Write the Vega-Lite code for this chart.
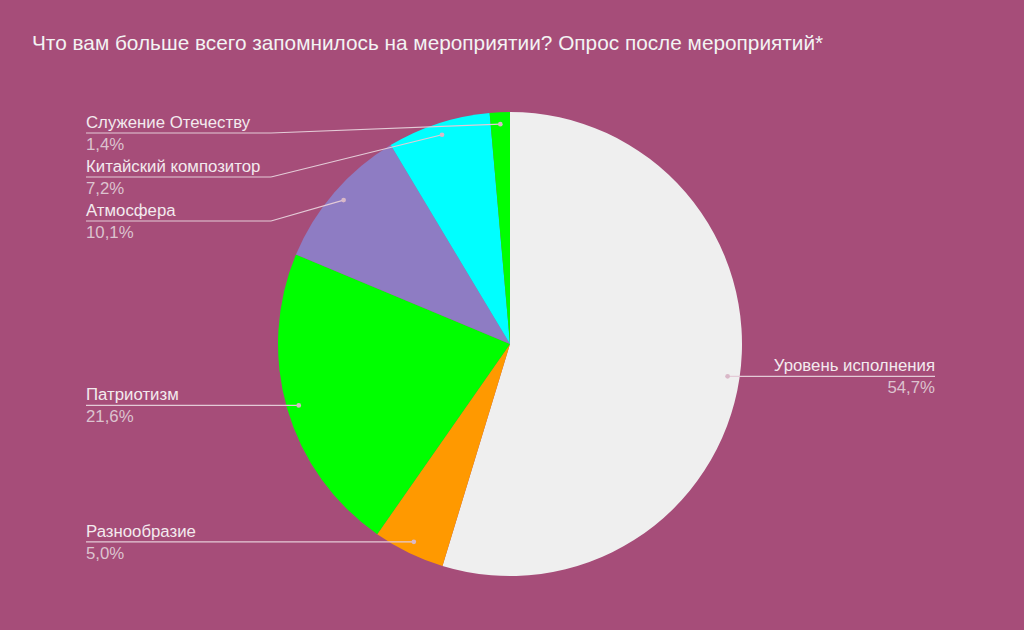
{
  "$schema": "https://vega.github.io/schema/vega-lite/v6.json",
  "width": 1024,
  "height": 570,
  "autosize": {"type": "none"},
  "padding": {"top": 60, "left": 0, "right": 0, "bottom": 0},
  "background": "#a64d79",
  "view": {"stroke": null},
  "title": {
    "text": "Что вам больше всего запомнилось на мероприятии? Опрос после мероприятий*",
    "anchor": "start",
    "dx": 32,
    "offset": -11,
    "fontSize": 20.8,
    "font": "Liberation Sans",
    "fontWeight": "normal",
    "color": "#f3f3f3",
    "baseline": "alphabetic"
  },
  "config": {"font": "Liberation Sans"},
  "data": {
    "values": [
      {"order": 1, "category": "Уровень исполнения", "pct": 54.7},
      {"order": 2, "category": "Разнообразие", "pct": 5.0},
      {"order": 3, "category": "Патриотизм", "pct": 21.6},
      {"order": 4, "category": "Атмосфера", "pct": 10.1},
      {"order": 5, "category": "Китайский композитор", "pct": 7.2},
      {"order": 6, "category": "Служение Отечеству", "pct": 1.4}
    ]
  },
  "transform": [
    {"window": [{"op": "sum", "field": "pct", "as": "cum"}], "sort": [{"field": "order"}], "frame": [null, 0]},
    {"calculate": "2 * PI * (datum.cum - datum.pct / 2) / 100", "as": "mid"},
    {"calculate": "220 * sin(datum.mid)", "as": "dotX"},
    {"calculate": "220 * cos(datum.mid)", "as": "dotY"},
    {"calculate": "datum.dotX >= 0 ? 'right' : 'left'", "as": "side"},
    {"window": [{"op": "row_number", "as": "rk"}], "groupby": ["side"], "sort": [{"field": "dotY", "order": "descending"}]},
    {"calculate": "datum.side == 'left' ? min(datum.dotY, 211 - 44 * (datum.rk - 1)) : datum.dotY", "as": "lineY"},
    {"calculate": "datum.side == 'left' ? -424 : 425", "as": "labelX"},
    {"calculate": "datum.side == 'left' ? -239 : 260", "as": "elbowX"},
    {"calculate": "replace(format(datum.pct, '.1f'), '.', ',') + '%'", "as": "pctLabel"}
  ],
  "layer": [
    {
      "mark": {"type": "arc", "outerRadius": 232},
      "encoding": {
        "x": {"datum": 0, "type": "quantitative", "scale": {"domain": [-510, 514], "nice": false, "zero": false}, "axis": null},
        "y": {"datum": 0, "type": "quantitative", "scale": {"domain": [-286, 284], "nice": false, "zero": false}, "axis": null},
        "theta": {"field": "pct", "type": "quantitative", "stack": true},
        "order": {"field": "order", "type": "quantitative"},
        "color": {
          "field": "category",
          "type": "nominal",
          "legend": null,
          "scale": {
            "domain": ["Уровень исполнения", "Разнообразие", "Патриотизм", "Атмосфера", "Китайский композитор", "Служение Отечеству"],
            "range": ["#efefef", "#ff9900", "#00ff00", "#8e7cc3", "#00ffff", "#00ff00"]
          }
        }
      }
    },
    {
      "mark": {"type": "rule", "color": "#e4cbd7", "strokeWidth": 1.2},
      "encoding": {
        "x": {"field": "labelX", "type": "quantitative", "scale": {"domain": [-510, 514], "nice": false, "zero": false}, "axis": null},
        "x2": {"field": "elbowX"},
        "y": {"field": "lineY", "type": "quantitative", "scale": {"domain": [-286, 284], "nice": false, "zero": false}, "axis": null},
        "y2": {"field": "lineY"}
      }
    },
    {
      "mark": {"type": "rule", "color": "#e4cbd7", "strokeWidth": 1.2},
      "encoding": {
        "x": {"field": "elbowX", "type": "quantitative", "scale": {"domain": [-510, 514], "nice": false, "zero": false}, "axis": null},
        "x2": {"field": "dotX"},
        "y": {"field": "lineY", "type": "quantitative", "scale": {"domain": [-286, 284], "nice": false, "zero": false}, "axis": null},
        "y2": {"field": "dotY"}
      }
    },
    {
      "mark": {"type": "point", "filled": true, "size": 22, "color": "#d9b8c8", "opacity": 1},
      "encoding": {
        "x": {"field": "dotX", "type": "quantitative", "scale": {"domain": [-510, 514], "nice": false, "zero": false}, "axis": null},
        "y": {"field": "dotY", "type": "quantitative", "scale": {"domain": [-286, 284], "nice": false, "zero": false}, "axis": null}
      }
    },
    {
      "transform": [{"filter": "datum.side == 'left'"}],
      "mark": {"type": "text", "align": "left", "baseline": "alphabetic", "dy": -5, "fontSize": 16.8, "color": "#f3eaee"},
      "encoding": {
        "x": {"field": "labelX", "type": "quantitative", "scale": {"domain": [-510, 514], "nice": false, "zero": false}, "axis": null},
        "y": {"field": "lineY", "type": "quantitative", "scale": {"domain": [-286, 284], "nice": false, "zero": false}, "axis": null},
        "text": {"field": "category"}
      }
    },
    {
      "transform": [{"filter": "datum.side == 'left'"}],
      "mark": {"type": "text", "align": "left", "baseline": "alphabetic", "dy": 17, "fontSize": 16.8, "color": "#dcc3cf"},
      "encoding": {
        "x": {"field": "labelX", "type": "quantitative", "scale": {"domain": [-510, 514], "nice": false, "zero": false}, "axis": null},
        "y": {"field": "lineY", "type": "quantitative", "scale": {"domain": [-286, 284], "nice": false, "zero": false}, "axis": null},
        "text": {"field": "pctLabel"}
      }
    },
    {
      "transform": [{"filter": "datum.side == 'right'"}],
      "mark": {"type": "text", "align": "right", "baseline": "alphabetic", "dy": -5, "fontSize": 16.8, "color": "#f3eaee"},
      "encoding": {
        "x": {"field": "labelX", "type": "quantitative", "scale": {"domain": [-510, 514], "nice": false, "zero": false}, "axis": null},
        "y": {"field": "lineY", "type": "quantitative", "scale": {"domain": [-286, 284], "nice": false, "zero": false}, "axis": null},
        "text": {"field": "category"}
      }
    },
    {
      "transform": [{"filter": "datum.side == 'right'"}],
      "mark": {"type": "text", "align": "right", "baseline": "alphabetic", "dy": 17, "fontSize": 16.8, "color": "#dcc3cf"},
      "encoding": {
        "x": {"field": "labelX", "type": "quantitative", "scale": {"domain": [-510, 514], "nice": false, "zero": false}, "axis": null},
        "y": {"field": "lineY", "type": "quantitative", "scale": {"domain": [-286, 284], "nice": false, "zero": false}, "axis": null},
        "text": {"field": "pctLabel"}
      }
    }
  ]
}
